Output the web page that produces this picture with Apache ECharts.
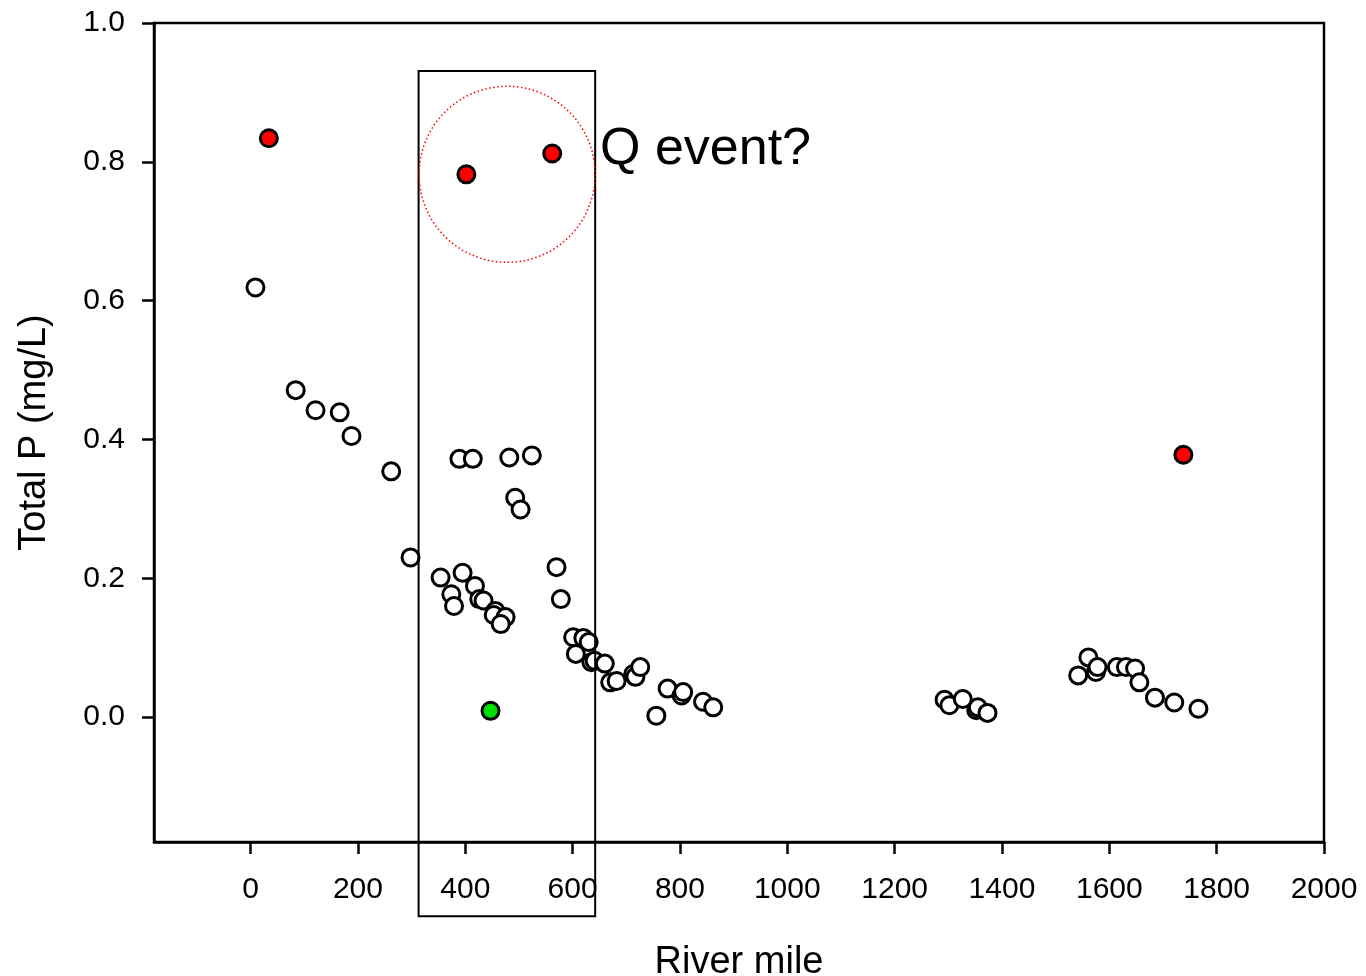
<!DOCTYPE html>
<html>
<head>
<meta charset="utf-8">
<title>Total P vs River mile</title>
<script src="https://cdn.jsdelivr.net/npm/echarts@6/dist/echarts.min.js"></script>
<style>
  html, body { margin: 0; padding: 0; background: #fff; }
  #chart { width: 1366px; height: 976px; }
</style>
</head>
<body>
<div id="chart"></div>
<script>
// open circles
var riverMile = [9, 84, 121, 166, 188, 262, 298, 389, 414, 482, 524, 493, 503,
  354, 395, 418, 374, 379, 426, 434, 456, 453, 475, 466, 570, 578,
  601, 620, 630, 606, 635, 641, 660, 670, 682, 713, 717, 726, 777, 803, 806,
  756, 843, 862, 1293, 1302, 1327, 1352, 1355, 1373,
  1542, 1561, 1575, 1578, 1614, 1631, 1648, 1656, 1685, 1721, 1766];
var totalP = [0.619, 0.471, 0.442, 0.439, 0.405, 0.354, 0.230, 0.372, 0.372, 0.374, 0.377, 0.316, 0.299,
  0.201, 0.208, 0.189, 0.177, 0.160, 0.170, 0.168, 0.153, 0.147, 0.144, 0.134, 0.216, 0.170,
  0.115, 0.114, 0.108, 0.091, 0.079, 0.081, 0.077, 0.050, 0.052, 0.062, 0.058, 0.072, 0.041, 0.031, 0.036,
  0.002, 0.022, 0.014, 0.025, 0.017, 0.026, 0.010, 0.014, 0.006,
  0.060, 0.086, 0.065, 0.072, 0.072, 0.072, 0.070, 0.050, 0.028, 0.021, 0.012];

// red (high) points
var redMile = [34, 402, 562, 1738];
var redP = [0.834, 0.782, 0.812, 0.378];

// green point
var greenMile = [447];
var greenP = [0.009];

var xTicks = [0, 200, 400, 600, 800, 1000, 1200, 1400, 1600, 1800, 2000];
var yTicks = [0, 0.2, 0.4, 0.6, 0.8, 1.0];

// annotation in data units: box, dotted circle and note
var boxX = [313, 642];
var boxY = [0.931, -0.287];
var ringCenter = [478, 0.782];
var ringRadiusMiles = 164;
var notePos = [651, 0.817];

function pairs(xs, ys) {
  return xs.map(function (x, i) { return [x, ys[i]]; });
}

var font = 'Liberation Sans, Arial, sans-serif';
var myChart = echarts.init(document.getElementById('chart'));

var option = {
  animation: false,
  backgroundColor: '#fff',
  grid: {
    left: 154,
    right: 42,
    top: 23,
    bottom: 134,
    outerBoundsMode: 'none',
    containLabel: false,
    show: true,
    borderColor: '#000',
    borderWidth: 2.5
  },
  xAxis: {
    type: 'value',
    min: -180,
    max: 2000,
    name: 'River mile',
    nameLocation: 'middle',
    nameGap: 102,
    nameTextStyle: { fontFamily: font, fontSize: 38, color: '#000' },
    axisLine: { onZero: false, lineStyle: { color: '#000', width: 2.5 } },
    axisTick: { show: true, length: 12, inside: false, customValues: xTicks, lineStyle: { color: '#000', width: 2.5 } },
    axisLabel: {
      customValues: xTicks,
      fontFamily: font, fontSize: 30, color: '#000', margin: 33,
      formatter: function (v) { return String(v); }
    },
    splitLine: { show: false }
  },
  yAxis: {
    type: 'value',
    min: -0.18,
    max: 1.0,
    name: 'Total P (mg/L)',
    nameLocation: 'middle',
    nameRotate: 90,
    nameGap: 100,
    nameTextStyle: { fontFamily: font, fontSize: 38, color: '#000' },
    axisLine: { onZero: false, lineStyle: { color: '#000', width: 2.5 } },
    axisTick: { show: true, length: 12, inside: false, customValues: yTicks, lineStyle: { color: '#000', width: 2.5 } },
    axisLabel: {
      customValues: yTicks,
      fontFamily: font, fontSize: 30, color: '#000', margin: 29,
      formatter: function (v) { return Number(v).toFixed(1); }
    },
    splitLine: { show: false }
  },
  series: [
    {
      type: 'scatter',
      name: 'open',
      data: pairs(riverMile, totalP),
      symbol: 'circle',
      symbolSize: 17,
      itemStyle: { color: '#fff', borderColor: '#000', borderWidth: 3, opacity: 1 }
    },
    {
      type: 'scatter',
      name: 'red',
      data: pairs(redMile, redP),
      symbol: 'circle',
      symbolSize: 17,
      itemStyle: { color: '#ff0000', borderColor: '#000', borderWidth: 3, opacity: 1 }
    },
    {
      type: 'scatter',
      name: 'green',
      data: pairs(greenMile, greenP),
      symbol: 'circle',
      symbolSize: 17,
      itemStyle: { color: '#00e000', borderColor: '#000', borderWidth: 3, opacity: 1 }
    }
  ]
};
myChart.setOption(option);

// annotations placed with the chart's own scales
var p1 = myChart.convertToPixel({ gridIndex: 0 }, [boxX[0], boxY[0]]);
var p2 = myChart.convertToPixel({ gridIndex: 0 }, [boxX[1], boxY[1]]);
var c = myChart.convertToPixel({ gridIndex: 0 }, ringCenter);
var cr = myChart.convertToPixel({ gridIndex: 0 }, [ringCenter[0] + ringRadiusMiles, ringCenter[1]]);
var np = myChart.convertToPixel({ gridIndex: 0 }, notePos);

myChart.setOption({
  graphic: [
    {
      type: 'rect',
      shape: { x: p1[0], y: p1[1], width: p2[0] - p1[0], height: p2[1] - p1[1] },
      style: { fill: null, stroke: '#000', lineWidth: 2 },
      z: 10
    },
    {
      type: 'circle',
      shape: { cx: c[0], cy: c[1], r: cr[0] - c[0] },
      style: { fill: null, stroke: '#ff0000', lineWidth: 1.5, lineDash: [1.5, 2.5] },
      z: 10
    },
    {
      type: 'text',
      x: np[0],
      y: np[1],
      style: { text: 'Q event?', fontFamily: font, fontSize: 52, fill: '#000', align: 'left', verticalAlign: 'middle' },
      z: 10
    }
  ]
});
</script>
</body>
</html>
